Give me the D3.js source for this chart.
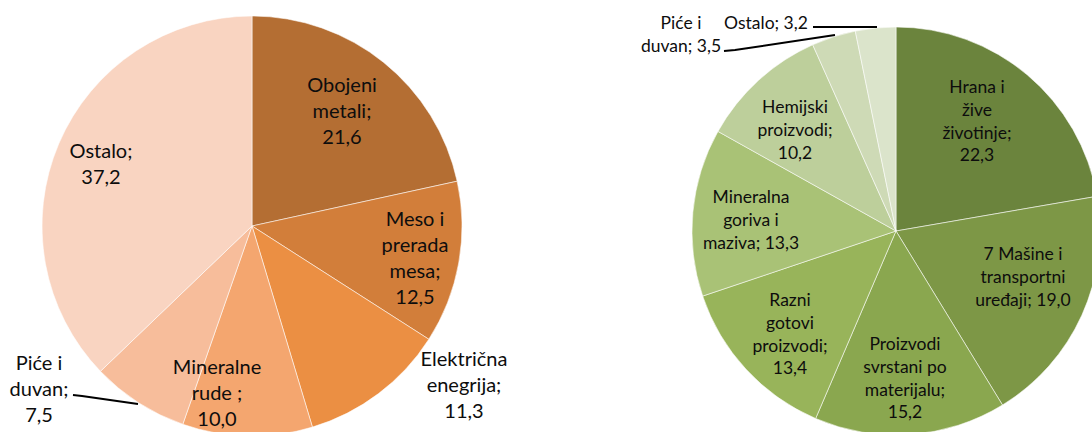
<!DOCTYPE html>
<html>
<head>
<meta charset="utf-8">
<script src="https://cdn.jsdelivr.net/npm/d3@7"></script>
<style>
    body { margin: 0; background: #fff; }
    text { font-family: Lato, "Open Sans", sans-serif; fill: #0d0d0d; }
</style>
</head>
<body>
<svg id="chart" width="1092" height="432"></svg>
<script>
// left pie data
const leftNames = ["Obojeni metali", "Meso i prerada mesa", "Električna enegrija", "Mineralne rude ", "Piće i duvan", "Ostalo"]
const leftValues = [21.6, 12.5, 11.3, 10.0, 7.5, 37.2]
const leftColors = ["#b46e33", "#d27e3a", "#eb8f43", "#f4a66f", "#f7bd9b", "#f9d4c1"]

// right pie data
const rightNames = ["Hrana i žive životinje", "7 Mašine i transportni uređaji", "Proizvodi svrstani po materijalu", "Razni gotovi proizvodi",
    "Mineralna goriva i maziva", "Hemijski proizvodi", "Piće i duvan", "Ostalo"]
const rightValues = [22.3, 19.0, 15.2, 13.4, 13.3, 10.2, 3.5, 3.2]
const rightColors = ["#6b843d", "#7d9746", "#8aa74f", "#98b45a", "#a9c276", "#bdcf9b", "#cedab6", "#dbe4cb"]

// label layout: anchor (center of first line), words per line
const leftLabels = [
    { x: 342, y: 85, words: [1, 1, 1] },
    { x: 415, y: 219, words: [2, 1, 1, 1] },
    { x: 464, y: 359, words: [1, 1, 1] },
    { x: 217, y: 367, words: [1, 2, 1] },
    { x: 39, y: 363, words: [2, 1, 1] },
    { x: 101, y: 151, words: [1, 1] }
]
const rightLabels = [
    { x: 977, y: 87, words: [2, 1, 1, 1] },
    { x: 1023, y: 254, words: [3, 1, 2] },
    { x: 905, y: 344, words: [1, 2, 1, 1] },
    { x: 790, y: 300, words: [1, 1, 1, 1] },
    { x: 751, y: 197, words: [1, 2, 2] },
    { x: 795, y: 107, words: [1, 1, 1] },
    { x: 681, y: 23, words: [2, 2] },
    { x: 766, y: 23, words: [2] }
]
const leftLeaders = [{ i: 4, pts: [[73, 395], [82, 396], [138, 404]] }]
const rightLeaders = [
    { i: 6, pts: [[724, 51], [735, 50], [835, 35]] },
    { i: 7, pts: [[813, 27], [877, 27]] }
]

const svg = d3.select("#chart")
const fmt = v => d3.format(".1f")(v).replace(".", ",")

function drawPie(opts) {
    const { cx, cy, r, names, values, colors, labels, leaders, fontSize, lineHeight } = opts
    const pie = d3.pie().sort(null).value(d => d)
    const arc = d3.arc().innerRadius(0).outerRadius(r)
    const g = svg.append("g").attr("transform", `translate(${cx},${cy})`)

    g.selectAll("path")
        .data(pie(values))
        .enter()
        .append("path")
        .attr("d", arc)
        .attr("fill", (d, i) => colors[i])
        .attr("stroke", "#fff")
        .attr("stroke-opacity", 0.55)
        .attr("stroke-width", 1)

    leaders.forEach(l => {
        svg.append("path")
            .attr("d", d3.line()(l.pts))
            .attr("fill", "none")
            .attr("stroke", "#000")
            .attr("stroke-width", 2)
    })

    labels.forEach((lab, i) => {
        const words = (names[i] + "; " + fmt(values[i])).split(" ")
        const lines = []
        let k = 0
        lab.words.forEach(n => {
            lines.push(words.slice(k, k + n).join(" "))
            k += n
        })
        const t = svg.append("text")
            .attr("text-anchor", "middle")
            .style("font-size", fontSize + "px")
        lines.forEach((s, j) => {
            t.append("tspan")
                .attr("x", lab.x)
                .attr("y", lab.y + j * lineHeight)
                .attr("dy", "0.35em")
                .text(s)
        })
    })
}

drawPie({ cx: 252, cy: 226, r: 210, names: leftNames, values: leftValues, colors: leftColors,
    labels: leftLabels, leaders: leftLeaders, fontSize: 20, lineHeight: 26 })
drawPie({ cx: 896, cy: 231, r: 204, names: rightNames, values: rightValues, colors: rightColors,
    labels: rightLabels, leaders: rightLeaders, fontSize: 17.5, lineHeight: 22.7 })
</script>
</body>
</html>
